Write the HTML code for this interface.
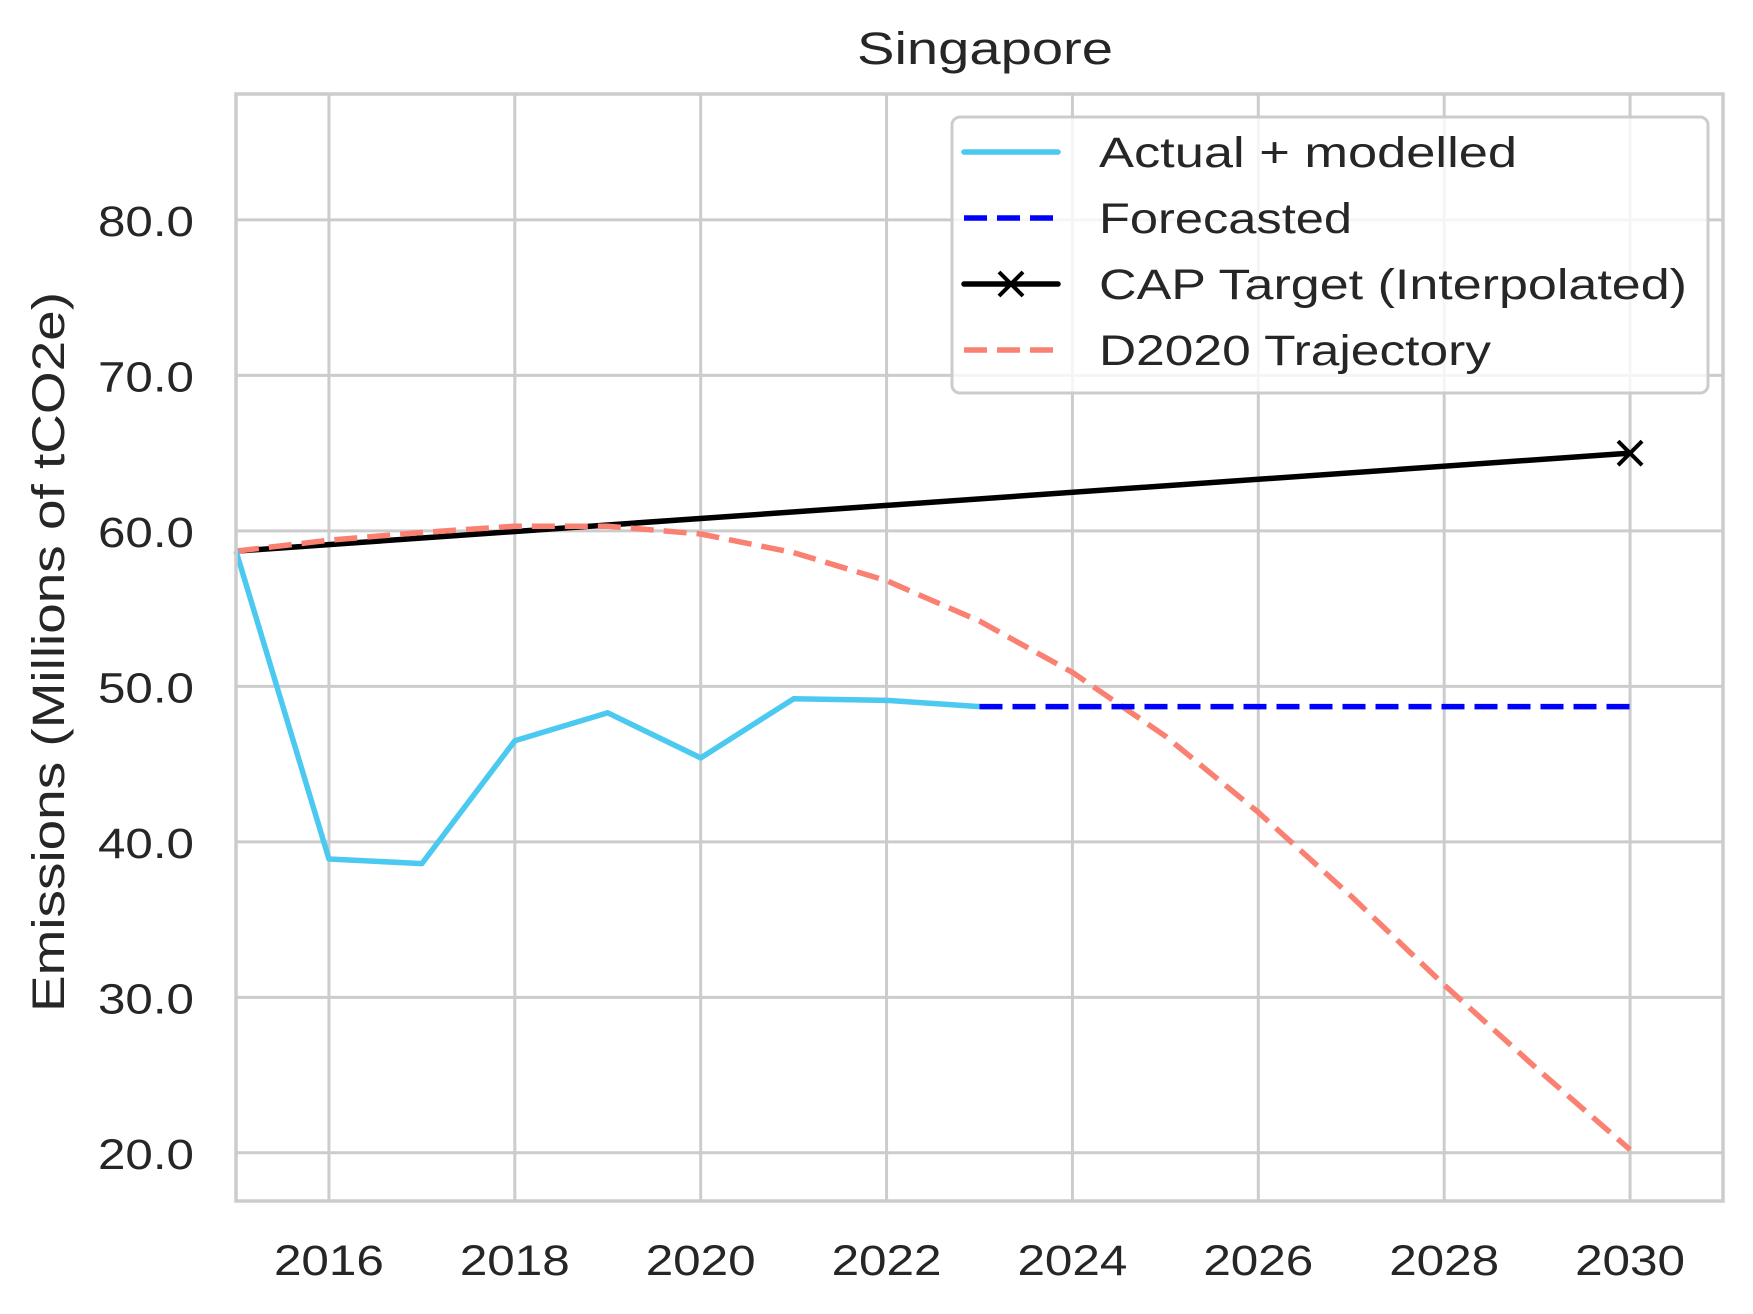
<!DOCTYPE html>
<html><head><meta charset="utf-8"><style>
html,body{margin:0;padding:0;background:#fff;}
svg{display:block;font-family:"Liberation Sans",sans-serif;}
</style></head><body>
<svg id="chart" width="1753" height="1314" viewBox="0 0 1753 1314" xmlns="http://www.w3.org/2000/svg">
<rect width="1753" height="1314" fill="#fff"/>
<g id="grid"></g>
<g id="series"></g>
<rect x="236" y="94" width="1487" height="1107" fill="none" stroke="#cccccc" stroke-width="3.5"/>
<g id="ticks" fill="#262626" font-size="43"></g>
<text x="985" y="64" text-anchor="middle" font-size="45" fill="#262626" textLength="256" lengthAdjust="spacingAndGlyphs">Singapore</text>
<text transform="translate(64,652) rotate(-90)" text-anchor="middle" font-size="45" fill="#262626" textLength="720" lengthAdjust="spacingAndGlyphs">Emissions (Millions of tCO2e)</text>
<g>
<rect x="952" y="117" width="756" height="276" rx="8" fill="#fff" fill-opacity="0.8" stroke="#cccccc" stroke-width="3"/>
<g>
<line x1="964" y1="152" x2="1058" y2="152" stroke="#4cc9f0" stroke-width="5.5" stroke-linecap="round"/>
<text x="1099" y="167" font-size="43" fill="#262626" textLength="418" lengthAdjust="spacingAndGlyphs">Actual + modelled</text></g>
<g>
<line x1="964" y1="218" x2="1058" y2="218" stroke="#0000ff" stroke-width="5.5" stroke-dasharray="23,10"/>
<text x="1099" y="233" font-size="43" fill="#262626" textLength="253" lengthAdjust="spacingAndGlyphs">Forecasted</text></g>
<g>
<line x1="964" y1="284" x2="1058" y2="284" stroke="#000" stroke-width="5.5" stroke-linecap="round"/>
<path d="M999,272 L1023,296 M1023,272 L999,296" stroke="#000" stroke-width="4"/>
<text x="1099" y="299" font-size="43" fill="#262626" textLength="588" lengthAdjust="spacingAndGlyphs">CAP Target (Interpolated)</text></g>
<g>
<line x1="964" y1="350" x2="1058" y2="350" stroke="#fa8072" stroke-width="5.5" stroke-dasharray="23,10"/>
<text x="1099" y="365" font-size="43" fill="#262626" textLength="392" lengthAdjust="spacingAndGlyphs">D2020 Trajectory</text></g>
</g>
</svg>
<script>
const actualYears = [2015,2016,2017,2018,2019,2020,2021,2022,2023];
const actualValues = [58.7,38.9,38.6,46.5,48.3,45.4,49.2,49.1,48.7];
const forecastYears = [2023,2030];
const forecastValues = [48.7,48.7];
const capYears = [2015,2030];
const capValues = [58.7,65.0];
const d2020Years = [2015,2016,2017,2018,2019,2020,2021,2022,2023,2024,2025,2026,2027,2028,2029,2030];
const d2020Values = [58.7,59.4,59.9,60.3,60.3,59.8,58.6,56.8,54.2,50.9,46.8,41.9,36.5,30.8,25.4,20.2];
const xTicks = [2016,2018,2020,2022,2024,2026,2028,2030];
const yTicks = [20,30,40,50,60,70,80];
const yTickLabels = ["20.0","30.0","40.0","50.0","60.0","70.0","80.0"];

const L=236,R=1723,T=94,B=1201,XMIN=2015,XMAX=2031,YMIN=16.9,YMAX=88.1;
function sx(v){return L+(v-XMIN)/(XMAX-XMIN)*(R-L);}
function sy(v){return B-(v-YMIN)/(YMAX-YMIN)*(B-T);}
const NS="http://www.w3.org/2000/svg";
const grid=document.getElementById('grid'),ticks=document.getElementById('ticks'),series=document.getElementById('series');
xTicks.forEach(t=>{
  const l=document.createElementNS(NS,'line');
  
  
  l.setAttribute('x1',sx(t));l.setAttribute('x2',sx(t));l.setAttribute('y1',T);l.setAttribute('y2',B);
  l.setAttribute('stroke','#cccccc');l.setAttribute('stroke-width','3');grid.appendChild(l);
  const tx=document.createElementNS(NS,'text');
  
  
  tx.setAttribute('x',sx(t));tx.setAttribute('y',1275);tx.setAttribute('text-anchor','middle');
  tx.setAttribute('textLength','110');tx.setAttribute('lengthAdjust','spacingAndGlyphs');
  tx.textContent=t;ticks.appendChild(tx);
});
yTicks.forEach((t,i)=>{
  const l=document.createElementNS(NS,'line');
  
  
  l.setAttribute('x1',L);l.setAttribute('x2',R);l.setAttribute('y1',sy(t));l.setAttribute('y2',sy(t));
  l.setAttribute('stroke','#cccccc');l.setAttribute('stroke-width','3');grid.appendChild(l);
  const tx=document.createElementNS(NS,'text');
  
  
  tx.setAttribute('x',194);tx.setAttribute('y',sy(t)+16);tx.setAttribute('text-anchor','end');
  tx.setAttribute('textLength','96');tx.setAttribute('lengthAdjust','spacingAndGlyphs');
  tx.textContent=yTickLabels[i];ticks.appendChild(tx);
});
function line(xs,ys,color,dash,name){
  const p=document.createElementNS(NS,'polyline');
  
  
  p.setAttribute('points',xs.map((x,i)=>sx(x)+','+sy(ys[i])).join(' '));
  p.setAttribute('fill','none');p.setAttribute('stroke',color);p.setAttribute('stroke-width','5.5');
  p.setAttribute('stroke-linejoin','round');
  if(dash)p.setAttribute('stroke-dasharray',dash);
  series.appendChild(p);
}
line(capYears,capValues,'#000',null,'cap-target-line');
line(d2020Years,d2020Values,'#fa8072','23,10','d2020-trajectory-line');
line(actualYears,actualValues,'#4cc9f0',null,'actual-line');
line(forecastYears,forecastValues,'#0000ff','23,10','forecast-line');
capYears.forEach((y,i)=>{
  if(i!==capYears.length-1)return;
  const m=document.createElementNS(NS,'path');
  
  
  const cx=sx(y),cy=sy(capValues[i]);
  m.setAttribute('d',`M${cx-12},${cy-12}L${cx+12},${cy+12}M${cx+12},${cy-12}L${cx-12},${cy+12}`);
  m.setAttribute('stroke','#000');m.setAttribute('stroke-width','4');series.appendChild(m);
});
</script>
</body></html>
